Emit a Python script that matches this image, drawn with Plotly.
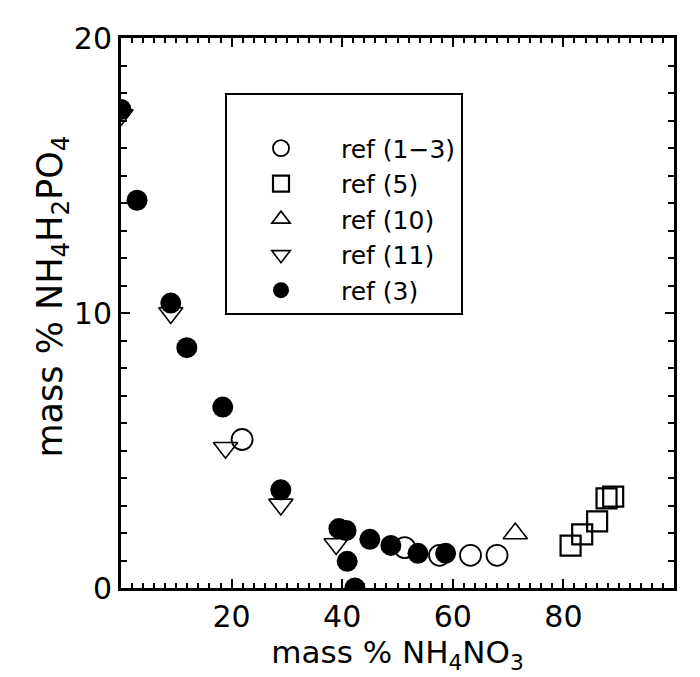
import plotly.graph_objects as go

# ref (1-3): open circles
x_ref13 = [21.9, 51.3, 57.6, 63.2, 68.0]
y_ref13 = [5.4, 1.47, 1.19, 1.19, 1.19]
# ref (5): open squares
x_ref5 = [81.3, 83.4, 86.1, 87.8, 89.0]
y_ref5 = [1.54, 1.95, 2.42, 3.26, 3.32]
# ref (10): triangle up
x_ref10 = [71.3]
y_ref10 = [1.98]
# ref (11): triangle down
x_ref11 = [0.0, 9.0, 18.9, 28.9, 38.9]
y_ref11 = [17.2, 10.0, 5.1, 3.04, 1.6]
# ref (3): filled circles
x_ref3 = [0.0, 2.9, 9.0, 11.9, 18.4, 28.9, 39.4, 40.7, 40.9, 42.3, 45.0, 48.8, 53.7, 58.7]
y_ref3 = [17.4, 14.1, 10.36, 8.74, 6.58, 3.57, 2.16, 2.09, 0.97, 0.0, 1.77, 1.55, 1.26, 1.26]

x_ticks = [20, 40, 60, 80]
x_ticktext = ["20", "40", "60", "80"]
y_ticks = [0, 10, 20]
y_ticktext = ["0", "10", "20"]

FONT = "DejaVu Sans"

fig = go.Figure()
fig.add_trace(go.Scatter(x=x_ref13, y=y_ref13, mode="markers", name="ref (1\u22123)",
                         marker=dict(symbol="circle-open", size=21, color="black", line=dict(width=1.8))))
fig.add_trace(go.Scatter(x=x_ref5, y=y_ref5, mode="markers", name="ref (5)",
                         marker=dict(symbol="square-open", size=20, color="black", line=dict(width=2.2))))
fig.add_trace(go.Scatter(x=x_ref10, y=y_ref10, mode="markers", name="ref (10)",
                         marker=dict(symbol="triangle-up-open", size=21, color="black", line=dict(width=1.6))))
fig.add_trace(go.Scatter(x=x_ref11, y=y_ref11, mode="markers", name="ref (11)",
                         marker=dict(symbol="triangle-down-open", size=21, color="black", line=dict(width=1.6))))
fig.add_trace(go.Scatter(x=x_ref3, y=y_ref3, mode="markers", name="ref (3)",
                         marker=dict(symbol="circle", size=21, color="black", line=dict(width=0))))

fig.update_layout(
    width=700, height=677,
    margin=dict(l=113, r=34, t=25, b=97),
    paper_bgcolor="white", plot_bgcolor="white",
    font=dict(family=FONT, size=30, color="black"),
    showlegend=True,
    legend=dict(
        x=(217 - 113) / 553, y=(580 - 81) / 555, xanchor="left", yanchor="top",
        bordercolor="black", borderwidth=2, bgcolor="white",
        font=dict(family=FONT, size=25, color="black"),
        indentation=-6, itemwidth=110, tracegroupgap=0,
        entrywidth=182,
        title=dict(text=" ", font=dict(family=FONT, size=23)),
    ),
    xaxis=dict(
        range=[0, 100], showgrid=False, zeroline=False,
        showline=True, linecolor="black", linewidth=3, mirror="allticks",
        ticks="inside", ticklen=9, tickwidth=1.5, tickcolor="black",
        tickmode="array", tickvals=x_ticks, ticktext=x_ticktext,
        tickfont=dict(family=FONT, size=30),
        minor=dict(ticks="inside", dtick=2, tick0=0, ticklen=5, tickwidth=1.5, tickcolor="black"),
        title=dict(text="mass % NH<sub>4</sub>NO<sub>3</sub>", font=dict(family=FONT, size=31), standoff=8),
    ),
    yaxis=dict(
        range=[0, 20], showgrid=False, zeroline=False,
        showline=True, linecolor="black", linewidth=3, mirror="allticks",
        ticks="inside", ticklen=9, tickwidth=1.5, tickcolor="black",
        tickmode="array", tickvals=y_ticks, ticktext=y_ticktext,
        tickfont=dict(family=FONT, size=30),
        minor=dict(ticks="inside", dtick=1, tick0=0, ticklen=6, tickwidth=1.5, tickcolor="black"),
    ),
    annotations=[dict(
        text="mass % NH<sub>4</sub>H<sub>2</sub>PO<sub>4</sub>",
        xref="paper", yref="paper", x=-(113 - 44) / 553, y=0.53,
        xanchor="center", yanchor="middle", textangle=-90, showarrow=False,
        font=dict(family=FONT, size=35, color="black"),
    )],
)

fig.write_html("out.html")
